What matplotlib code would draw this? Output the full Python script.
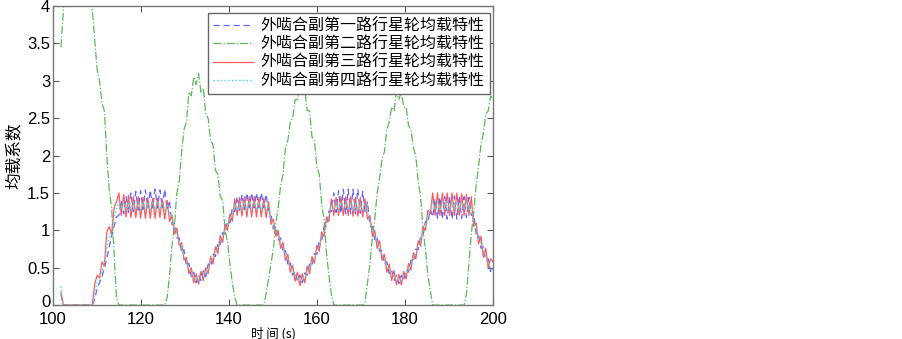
import numpy as np
import matplotlib.pyplot as plt
from matplotlib.transforms import ScaledTranslation

plt.rcParams['font.family'] = ['Liberation Sans', 'Noto Sans CJK SC', 'DejaVu Sans']

# time axis (s), sampled every ~0.55 s
t = np.linspace(101.8, 200, 180)

# first planet path
blue = [0.14, 0, 0, 0, 0, 0, 0, 0, 0, 0,
        0, 0, 0, 0, 0.08, 0.22, 0.3, 0.38, 0.5, 0.62,
        0.78, 0.92, 1.05, 1.18, 1.2, 1.4, 1.22, 1.45, 1.24, 1.5,
        1.25, 1.52, 1.27, 1.53, 1.28, 1.54, 1.3, 1.54, 1.3, 1.55,
        1.3, 1.54, 1.3, 1.55, 1.28, 1.4, 1.08, 1.1, 0.9, 0.9,
        0.7, 0.74, 0.52, 0.56, 0.38, 0.44, 0.3, 0.4, 0.33, 0.46,
        0.38, 0.55, 0.52, 0.68, 0.65, 0.82, 0.8, 0.97, 0.95, 1.13,
        1.1, 1.3, 1.25, 1.45, 1.27, 1.48, 1.28, 1.5, 1.3, 1.5,
        1.3, 1.5, 1.3, 1.5, 1.3, 1.48, 1.28, 1.22, 1.02, 1.05,
        0.87, 0.9, 0.7, 0.73, 0.55, 0.58, 0.4, 0.45, 0.32, 0.4,
        0.3, 0.43, 0.4, 0.55, 0.53, 0.69, 0.68, 0.85, 0.86, 1.05,
        1.05, 1.26, 1.25, 1.5, 1.24, 1.53, 1.23, 1.55, 1.22, 1.55,
        1.22, 1.55, 1.22, 1.55, 1.23, 1.52, 1.25, 1.38, 1.06, 1.05,
        0.87, 0.9, 0.72, 0.73, 0.55, 0.58, 0.42, 0.47, 0.33, 0.4,
        0.29, 0.4, 0.33, 0.47, 0.44, 0.6, 0.58, 0.75, 0.74, 0.92,
        0.93, 1.12, 1.1, 1.28, 1.18, 1.42, 1.16, 1.44, 1.15, 1.45,
        1.15, 1.45, 1.15, 1.46, 1.15, 1.46, 1.16, 1.45, 1.17, 1.44,
        1.2, 1.22, 0.95, 0.95, 0.76, 0.78, 0.6, 0.62, 0.45, 0.48]

# second planet path
green = [3.45, 3.95, 4.4, 4.8, 5.1, 5.3, 5.4, 5.4, 5.3, 5.1,
         4.9, 4.6, 4.3, 3.95, 3.55, 3.15, 3.0, 2.7, 2.6, 2.0,
         1.55, 1.3, 0.7, 0.1, 0, 0, 0, 0, 0, 0,
         0, 0, 0, 0, 0, 0, 0, 0, 0, 0,
         0, 0, 0, 0, 0.1, 0.4, 0.8, 1.05, 1.5, 1.65,
         2.05, 2.35, 2.45, 2.85, 2.8, 3.05, 2.95, 3.1, 2.85, 2.9,
         2.55, 2.5, 2.2, 2.15, 1.8, 1.75, 1.45, 1.4, 1.0, 0.85,
         0.55, 0.3, 0.1, 0, 0, 0, 0, 0, 0, 0,
         0, 0, 0, 0, 0, 0.15, 0.35, 0.55, 0.75, 1.1,
         1.3, 1.6, 1.75, 2.1, 2.2, 2.45, 2.5, 2.75, 2.75, 2.95,
         2.85, 2.9, 2.6, 2.6, 2.25, 2.2, 1.85, 1.75, 1.35, 1.15,
         0.7, 0.4, 0.15, 0, 0, 0, 0, 0, 0, 0,
         0, 0, 0, 0, 0, 0, 0.05, 0.3, 0.55, 0.9,
         1.15, 1.5, 1.7, 1.95, 2.05, 2.35, 2.45, 2.65, 2.6, 2.85,
         2.75, 2.85, 2.65, 2.65, 2.4, 2.35, 2.1, 2.0, 1.65, 1.45,
         1.0, 0.75, 0.4, 0.2, 0, 0, 0, 0, 0, 0,
         0, 0, 0, 0, 0, 0, 0, 0, 0.15, 0.55,
         0.95, 1.25, 1.6, 1.85, 2.15, 2.3, 2.55, 2.6, 2.8, 2.75]

# third planet path
red = [0.17, 0, 0, 0, 0, 0, 0, 0, 0, 0,
       0, 0, 0, 0, 0.28, 0.4, 0.36, 0.58, 0.52, 0.98,
       1.05, 0.95, 1.3, 1.38, 1.5, 1.2, 1.48, 1.18, 1.47, 1.17,
       1.45, 1.17, 1.45, 1.16, 1.44, 1.16, 1.44, 1.16, 1.43, 1.16,
       1.43, 1.17, 1.42, 1.15, 1.4, 1.12, 1.2, 0.95, 1.03, 0.8,
       0.84, 0.6, 0.64, 0.42, 0.5, 0.3, 0.42, 0.28, 0.45, 0.33,
       0.5, 0.42, 0.65, 0.55, 0.78, 0.69, 0.93, 0.84, 1.08, 1.0,
       1.22, 1.12, 1.42, 1.2, 1.44, 1.19, 1.45, 1.18, 1.45, 1.18,
       1.45, 1.18, 1.44, 1.18, 1.43, 1.17, 1.38, 1.08, 1.15, 0.92,
       1.0, 0.76, 0.84, 0.6, 0.68, 0.44, 0.53, 0.32, 0.44, 0.26,
       0.42, 0.3, 0.52, 0.42, 0.65, 0.56, 0.8, 0.72, 0.98, 0.92,
       1.18, 1.12, 1.42, 1.2, 1.44, 1.2, 1.45, 1.2, 1.45, 1.2,
       1.45, 1.19, 1.44, 1.19, 1.44, 1.18, 1.42, 1.15, 1.2, 0.92,
       1.0, 0.76, 0.86, 0.6, 0.68, 0.44, 0.55, 0.33, 0.46, 0.27,
       0.41, 0.27, 0.45, 0.35, 0.56, 0.47, 0.7, 0.62, 0.86, 0.79,
       1.05, 1.0, 1.27, 1.22, 1.5, 1.2, 1.5, 1.2, 1.5, 1.2,
       1.5, 1.2, 1.5, 1.2, 1.5, 1.2, 1.49, 1.2, 1.48, 1.2,
       1.45, 1.05, 1.1, 0.82, 0.92, 0.64, 0.76, 0.5, 0.62, 0.58]

# fourth planet path
cyan = [0.25, 0, 0, 0, 0, 0, 0, 0, 0, 0,
        0, 0, 0, 0, 0.15, 0.3, 0.33, 0.45, 0.55, 0.75,
        0.9, 1.0, 1.15, 1.3, 1.36, 1.28, 1.38, 1.26, 1.38, 1.27,
        1.38, 1.27, 1.38, 1.27, 1.39, 1.27, 1.38, 1.27, 1.39, 1.28,
        1.38, 1.27, 1.38, 1.27, 1.35, 1.22, 1.15, 1.02, 0.97, 0.86,
        0.76, 0.66, 0.58, 0.48, 0.44, 0.36, 0.36, 0.32, 0.39, 0.38,
        0.44, 0.49, 0.58, 0.62, 0.71, 0.76, 0.86, 0.91, 1.01, 1.07,
        1.16, 1.22, 1.35, 1.27, 1.37, 1.26, 1.38, 1.26, 1.38, 1.27,
        1.38, 1.27, 1.38, 1.26, 1.37, 1.26, 1.33, 1.15, 1.08, 0.99,
        0.93, 0.84, 0.76, 0.67, 0.61, 0.51, 0.46, 0.39, 0.37, 0.33,
        0.35, 0.37, 0.45, 0.49, 0.58, 0.63, 0.73, 0.79, 0.91, 0.99,
        1.11, 1.2, 1.35, 1.27, 1.38, 1.27, 1.38, 1.27, 1.38, 1.27,
        1.38, 1.27, 1.38, 1.27, 1.37, 1.26, 1.35, 1.25, 1.13, 0.99,
        0.93, 0.84, 0.78, 0.67, 0.61, 0.52, 0.48, 0.41, 0.39, 0.34,
        0.34, 0.33, 0.38, 0.41, 0.49, 0.54, 0.63, 0.69, 0.79, 0.86,
        0.98, 1.06, 1.18, 1.28, 1.38, 1.27, 1.38, 1.26, 1.39, 1.27,
        1.38, 1.27, 1.39, 1.27, 1.38, 1.27, 1.38, 1.27, 1.38, 1.27,
        1.33, 1.12, 1.0, 0.89, 0.83, 0.72, 0.66, 0.56, 0.5, 0.46]

labels = ['外啮合副第一路行星轮均载特性', '外啮合副第二路行星轮均载特性',
          '外啮合副第三路行星轮均载特性', '外啮合副第四路行星轮均载特性']

fig = plt.figure(figsize=(9.03, 3.39), dpi=100)
ax = fig.add_axes([0.0587, 0.100, 0.4873, 0.882])

ax.plot(t, blue, '--', color='#6464ff', lw=0.9, dashes=(5, 3), label=labels[0])
ax.plot(t, green, '-.', color='#5cb85c', lw=0.9, label=labels[1])
ax.plot(t, red, '-', color='#ff5a5a', lw=0.9, label=labels[2])
ax.plot(t, cyan, ':', color='#3cdcdc', lw=1.0, label=labels[3])

ax.set_xlim(100, 200)
ax.set_ylim(0, 4)
ax.set_xticks([100, 120, 140, 160, 180, 200])
ax.set_yticks([0, 0.5, 1, 1.5, 2, 2.5, 3, 3.5, 4])
ax.set_yticklabels(['0', '0.5', '1', '1.5', '2', '2.5', '3', '3.5', '4'])
ax.tick_params(direction='in', top=True, right=True, length=4, width=0.8,
               color='#555555', labelsize=12)
ax.tick_params(axis='x', pad=5)
ax.tick_params(axis='y', pad=2)
for sp in ax.spines.values():
    sp.set_color('#777777')
    sp.set_linewidth(1.0)

# nudge the bottom y label up a little so it clears the "100" below it
zero_lbl = ax.get_yticklabels()[0]
zero_lbl.set_transform(zero_lbl.get_transform() +
                       ScaledTranslation(0, 3 / 72, fig.dpi_scale_trans))

ax.set_xlabel('时 间 (s)', fontsize=9, family=['Noto Sans CJK SC', 'DejaVu Sans'], labelpad=0)
ax.set_ylabel('均载系数', fontsize=12, family=['Noto Sans CJK SC', 'DejaVu Sans'], labelpad=3)

leg = ax.legend(loc='upper right', bbox_to_anchor=(0.992, 0.977), fancybox=False,
                framealpha=1, edgecolor='#666666', borderaxespad=0,
                prop={'family': ['Noto Sans CJK SC', 'DejaVu Sans'], 'size': 11.5},
                handlelength=2.5, handletextpad=0.5, labelspacing=0.08,
                borderpad=0.3)
leg.get_frame().set_linewidth(1.0)

fig.savefig('out.png', dpi=100)
